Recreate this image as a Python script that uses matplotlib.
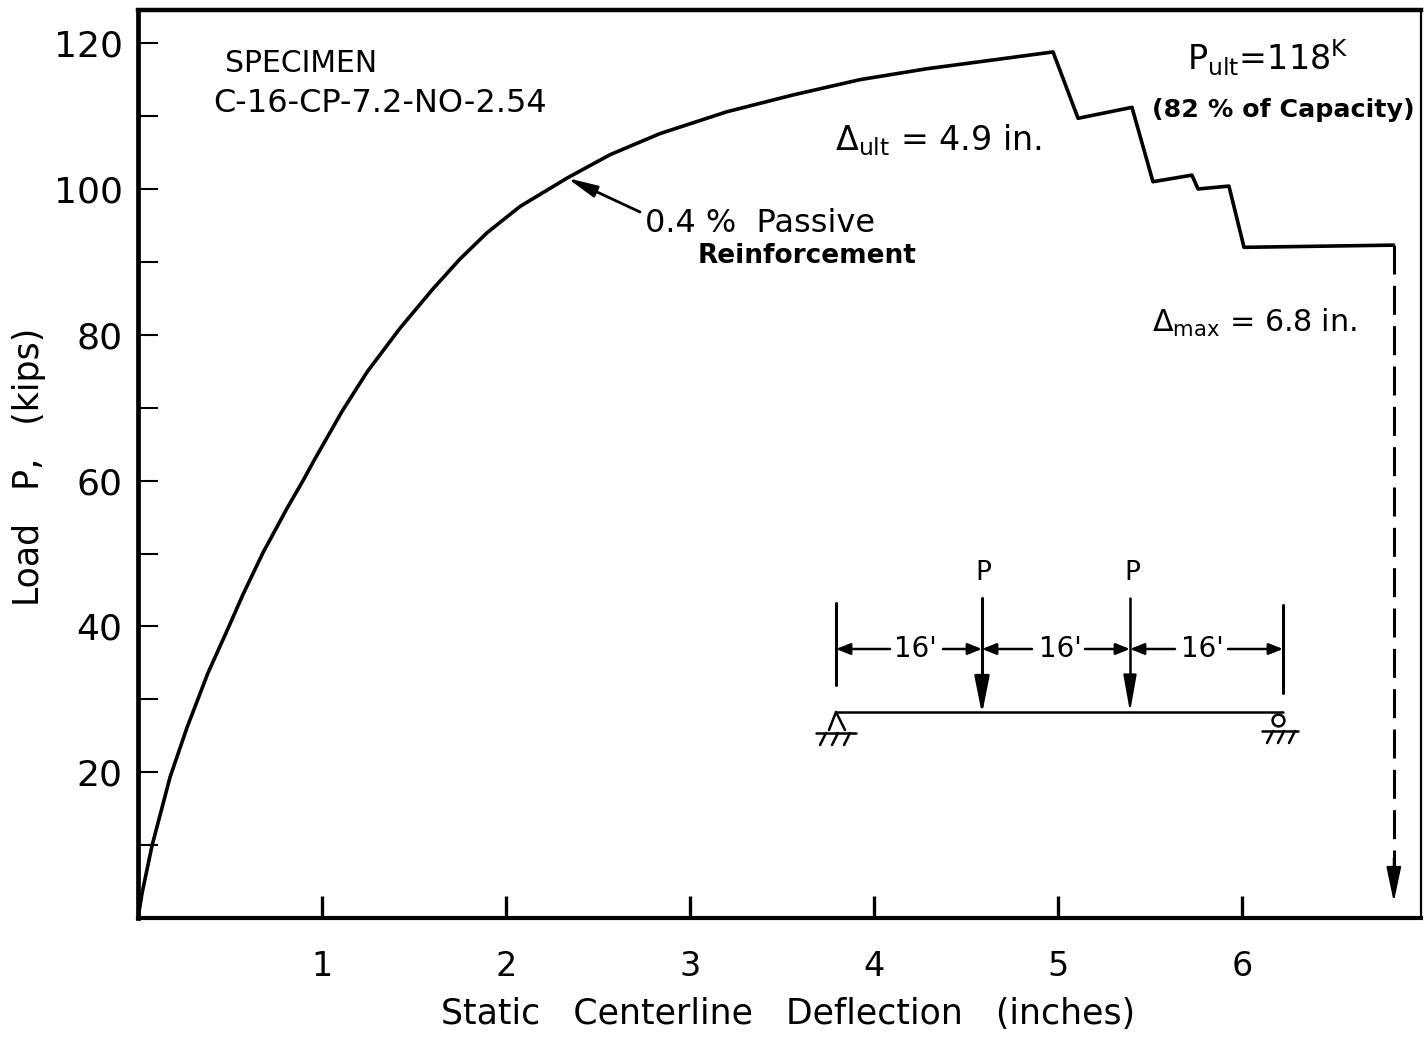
import matplotlib
matplotlib.use("Agg")
import matplotlib.pyplot as plt

WIDTH, HEIGHT = 1424, 1038
X0_PX, Y0_PX = 138, 918
PX_PER_IN, PX_PER_KIP = 184.0, 7.29

# load-deflection curve
deflection = [0.0, 0.022, 0.076, 0.174, 0.266, 0.380, 0.489, 0.571, 0.679, 0.810, 0.897, 0.962, 1.109, 1.245,
              1.424, 1.603, 1.750, 1.897, 2.076, 2.332, 2.565, 2.837, 3.201, 3.560, 3.924, 4.288, 4.647, 4.973,
              5.109, 5.402, 5.516, 5.728, 5.761, 5.929, 6.011, 6.821]
load = [0.0, 3.4, 9.9, 19.3, 26.1, 33.6, 39.7, 44.4, 50.1, 56.2, 60.0, 63.0, 69.5, 74.9,
        80.9, 86.3, 90.4, 94.0, 97.6, 101.5, 104.7, 107.6, 110.6, 112.9, 115.0, 116.5, 117.7, 118.8,
        109.7, 111.2, 101.0, 101.9, 100.0, 100.4, 92.0, 92.3]

x_ticks = [1, 2, 3, 4, 5, 6]
y_major = [20, 40, 60, 80, 100, 120]
y_minor = [10, 30, 50, 70, 90, 110]

DEFLECTION_MAX = 6.825
LOAD_AT_MAX = 92.3
LOAD_ARROW_END = 2.2


def dx(px):
    return (px - X0_PX) / PX_PER_IN


def dy(py):
    return (Y0_PX - py) / PX_PER_KIP


def seg(ax, x1, y1, x2, y2, lw=2.2):
    ax.plot([dx(x1), dx(x2)], [dy(y1), dy(y2)], color="black", lw=lw, solid_capstyle="round")


def arrow(ax, x1, y1, x2, y2, lw=1.8, scale=17, style="-|>,head_length=0.5,head_width=0.2"):
    ax.annotate("", xy=(dx(x2), dy(y2)), xytext=(dx(x1), dy(y1)),
                arrowprops=dict(arrowstyle=style, color="black", lw=lw, mutation_scale=scale,
                                shrinkA=0, shrinkB=0))


def label(ax, x, y, s, size=18, ha="left", weight="normal"):
    ax.text(dx(x), dy(y), s, fontsize=size, ha=ha, va="center", fontweight=weight, color="black")


fig = plt.figure(figsize=(WIDTH / 100, HEIGHT / 100), dpi=100)
ax = fig.add_axes([X0_PX / WIDTH, 1 - Y0_PX / HEIGHT, (1421 - X0_PX) / WIDTH, (Y0_PX - 10) / HEIGHT])
ax.set_xlim(0, dx(1421))
ax.set_ylim(0, dy(10))

ax.plot(deflection, load, color="black", lw=2.6, solid_joinstyle="round")
ax.plot([DEFLECTION_MAX, DEFLECTION_MAX], [LOAD_AT_MAX, LOAD_ARROW_END + 3], color="black", lw=2.2,
        linestyle=(0, (9.5, 3.7)))
ax.annotate("", xy=(DEFLECTION_MAX, LOAD_ARROW_END), xytext=(DEFLECTION_MAX, LOAD_ARROW_END + 6),
            arrowprops=dict(arrowstyle="-|>,head_length=0.9,head_width=0.19", color="black", lw=1.5,
                            mutation_scale=24, shrinkA=0, shrinkB=0))

ax.set_xticks(x_ticks)
ax.set_yticks(y_major)
ax.set_yticks(y_minor, minor=True)
ax.tick_params(axis="x", direction="in", length=16, width=2.4, pad=23, labelsize=24)
ax.tick_params(axis="y", which="major", direction="in", length=14.5, width=1.5, pad=11, labelsize=26)
ax.tick_params(axis="y", which="minor", direction="in", length=14.5, width=1.5)

ax.spines["left"].set_linewidth(3.4)
ax.spines["bottom"].set_linewidth(3.0)
ax.spines["top"].set_linewidth(3.2)
ax.spines["right"].set_linewidth(1.6)

fig.text(788 / WIDTH, 1 - 1014 / HEIGHT, "Static   Centerline   Deflection   (inches)", fontsize=25,
         ha="center", va="center")
fig.text(29 / WIDTH, 1 - 467 / HEIGHT, "Load   P,   (kips)", fontsize=25, rotation=90, ha="center", va="center")

label(ax, 225, 64, "SPECIMEN", 21.5)
label(ax, 213, 103, "C-16-CP-7.2-NO-2.54", 23)
label(ax, 645, 223, "0.4 %  Passive", 23)
label(ax, 698, 256, "Reinforcement", 19, weight="bold")
label(ax, 835, 140, r"$\Delta_{\mathrm{ult}}$ = 4.9 in.", 24)
label(ax, 1187, 58, r"P$_{\mathrm{ult}}$=118$^{\mathrm{K}}$", 24)
label(ax, 1152, 110, "(82 % of Capacity)", 18.3, weight="bold")
label(ax, 1152, 323, r"$\Delta_{\mathrm{max}}$ = 6.8 in.", 21.7)
arrow(ax, 640, 212, 567, 178, 2.0, 20, "-|>,head_length=0.9,head_width=0.18")

# beam sketch
seg(ax, 836, 712, 1283, 712, 1.8)
seg(ax, 836, 603, 836, 685)
seg(ax, 1283, 605, 1283, 693)
seg(ax, 982, 598, 982, 690)
seg(ax, 1130, 598, 1130, 690, 1.8)
arrow(ax, 982, 680, 982, 714, 2.0, 24, "-|>,head_length=0.95,head_width=0.19")
arrow(ax, 1130, 680, 1130, 712, 1.5, 24, "-|>,head_length=0.95,head_width=0.17")
label(ax, 983, 573, "P", 19, ha="center")
label(ax, 1132, 573, "P", 19, ha="center")

for left, right, gap_l, gap_r, text_x in [(836, 982, 890, 943, 915), (982, 1130, 1032, 1085, 1060),
                                          (1130, 1283, 1175, 1228, 1202)]:
    arrow(ax, gap_l, 649, left, 649)
    arrow(ax, gap_r, 649, right, 649)
    label(ax, text_x, 649, "16'", 20, ha="center")

# supports
seg(ax, 836, 712, 829, 730, 1.8)
seg(ax, 836, 712, 845, 730, 1.8)
seg(ax, 816, 733, 856, 733, 1.8)
for hatch_x in [826, 838, 850]:
    seg(ax, hatch_x, 733, hatch_x - 6, 745, 1.8)
ax.plot([dx(1278)], [dy(720)], marker="o", ms=8.5, mfc="white", mec="black", mew=1.8, ls="none")
seg(ax, 1262, 731, 1298, 731, 1.8)
for hatch_x in [1273, 1284, 1295]:
    seg(ax, hatch_x, 731, hatch_x - 6, 743, 1.8)

fig.savefig("out.png", dpi=100)
